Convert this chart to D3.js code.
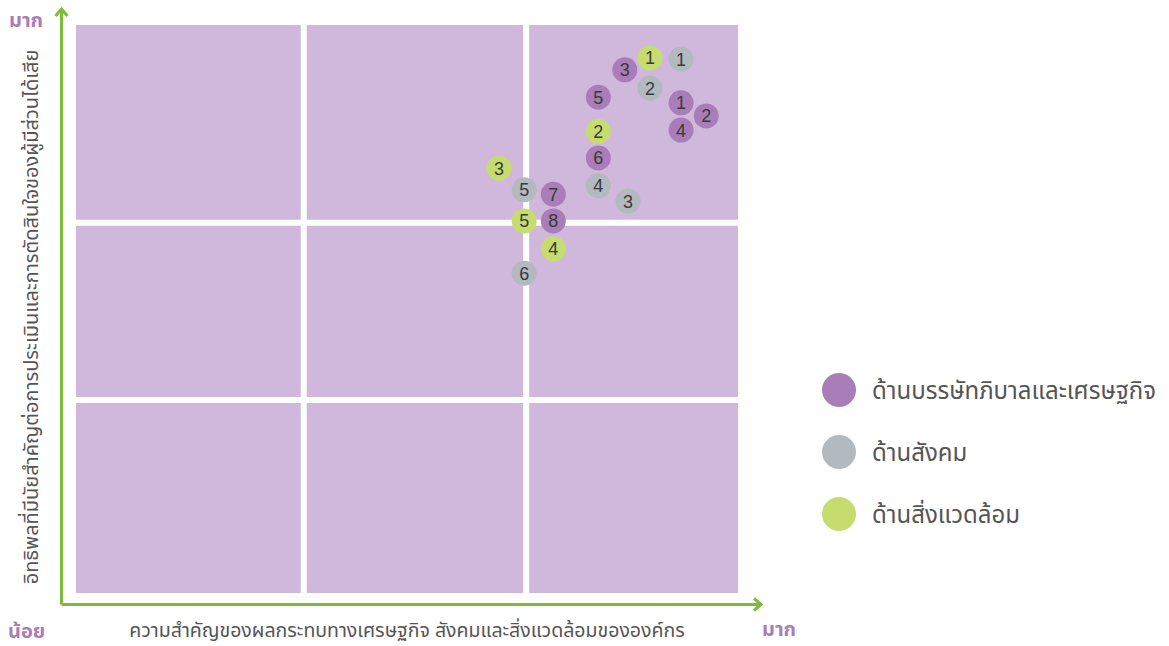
<!DOCTYPE html>
<html>
<head>
<meta charset="utf-8">
<script src="https://cdn.jsdelivr.net/npm/d3@7"></script>
<style>
  body { margin: 0; background: #fff; }
  svg text { font-family: "Noto Sans Thai", "Noto Sans", Tahoma, sans-serif; }
</style>
</head>
<body>
<div id="chart"></div>
<script>
// series: [label, x (ผลกระทบ), y (อิทธิพลต่อผู้มีส่วนได้เสีย)]
var governance = [
    ["1", 91.4, 86.3], ["2", 95.2, 84.0], ["3", 82.9, 92.1], ["4", 91.4, 81.5],
    ["5", 78.9, 87.3], ["6", 78.9, 76.6], ["7", 72.1, 70.2], ["8", 72.1, 65.5]
];
var social = [
    ["1", 91.4, 94.0], ["2", 86.7, 88.9], ["3", 83.4, 69.0],
    ["4", 78.9, 71.7], ["5", 67.7, 71.0], ["6", 67.7, 56.3]
];
var environment = [
    ["1", 86.7, 94.2], ["2", 78.9, 81.3], ["3", 63.9, 74.8],
    ["4", 72.1, 60.6], ["5", 67.7, 65.5]
];
var seriesNames = ["ด้านบรรษัทภิบาลและเศรษฐกิจ", "ด้านสังคม", "ด้านสิ่งแวดล้อม"];
var seriesColors = ["#a97db8", "#b2b9bf", "#c6dc6f"];
var gridX = [34.4, 68.0];
var gridY = [34.0, 65.2];
var xTitle = "ความสำคัญของผลกระทบทางเศรษฐกิจ สังคมและสิ่งแวดล้อมขององค์กร";
var yTitle = "อิทธิพลที่มีนัยสำคัญต่อการประเมินและการตัดสินใจของผู้มีส่วนได้เสีย";

var width = 1169, height = 646;
var svg = d3.select("#chart").append("svg")
    .attr("width", width).attr("height", height);

var x = d3.scaleLinear().domain([0, 100]).range([76, 738]);
var y = d3.scaleLinear().domain([0, 100]).range([593, 25]);

// background panel
svg.append("rect")
    .attr("x", x(0)).attr("y", y(100))
    .attr("width", x(100) - x(0)).attr("height", y(0) - y(100))
    .attr("fill", "#cfb8dc");

// white grid gaps
svg.selectAll("line.gx").data(gridX).enter().append("line")
    .attr("x1", d => x(d)).attr("x2", d => x(d))
    .attr("y1", y(0)).attr("y2", y(100))
    .attr("stroke", "#fff").attr("stroke-width", 6);
svg.selectAll("line.gy").data(gridY).enter().append("line")
    .attr("y1", d => y(d)).attr("y2", d => y(d))
    .attr("x1", x(0)).attr("x2", x(100))
    .attr("stroke", "#fff").attr("stroke-width", 6);

// green axes with arrow heads
var green = "#7cbb3c";
var ax = 61.5, ay = 604.5;
svg.append("path")
    .attr("d", "M" + ax + "," + ay + "V9 M" + (ax - 6) + ",16 L" + ax + ",9 L" + (ax + 6) + ",16")
    .attr("fill", "none").attr("stroke", green).attr("stroke-width", 3);
svg.append("path")
    .attr("d", "M" + ax + "," + ay + "H761 M754," + (ay - 6) + " L761," + ay + " L754," + (ay + 6))
    .attr("fill", "none").attr("stroke", green).attr("stroke-width", 3);

// corner labels
var corner = [["มาก", 9, 27], ["น้อย", 8, 638], ["มาก", 762, 636]];
svg.selectAll("text.corner").data(corner).enter().append("text")
    .attr("x", d => d[1]).attr("y", d => d[2])
    .attr("fill", "#a97db8").attr("font-size", 20).attr("font-weight", "bold")
    .text(d => d[0]);

// axis titles
svg.append("text")
    .attr("x", 407).attr("y", 637)
    .attr("text-anchor", "middle").attr("font-size", 19.5).attr("fill", "#555")
    .text(xTitle);
svg.append("text")
    .attr("transform", "translate(38,317) rotate(-90)")
    .attr("text-anchor", "middle").attr("font-size", 20).attr("fill", "#555")
    .text(yTitle);

// points
var all = [governance, social, environment];
all.forEach(function (data, i) {
    var g = svg.append("g");
    var pts = g.selectAll("g").data(data).enter().append("g")
        .attr("transform", d => "translate(" + x(d[1]) + "," + y(d[2]) + ")");
    pts.append("circle").attr("r", 12.5).attr("fill", seriesColors[i]);
    pts.append("text")
        .attr("text-anchor", "middle").attr("dy", "0.36em")
        .attr("font-size", 18).attr("fill", "#3a3a3a")
        .style("font-family", "'Liberation Sans', Arial, sans-serif")
        .text(d => d[0]);
});

// legend
var legend = svg.selectAll("g.legend").data(seriesNames).enter().append("g")
    .attr("transform", (d, i) => "translate(839," + (390 + i * 62) + ")");
legend.append("circle").attr("r", 17).attr("fill", (d, i) => seriesColors[i]);
legend.append("text")
    .attr("x", 33).attr("dy", "0.36em")
    .attr("font-size", 24).attr("fill", "#555")
    .text(d => d);
</script>
</body>
</html>
